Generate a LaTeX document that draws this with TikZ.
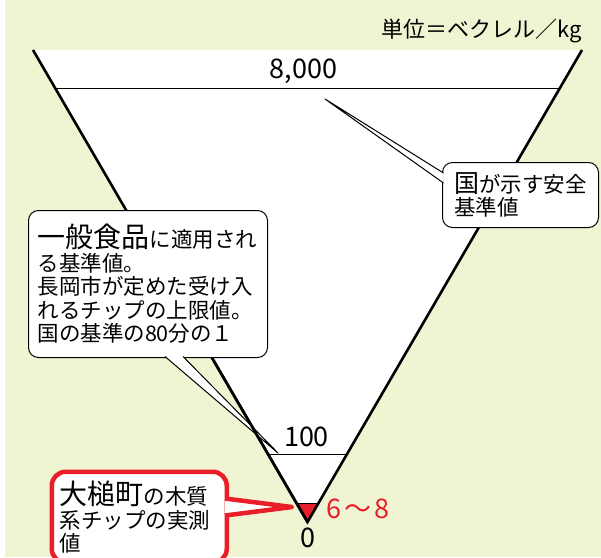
\documentclass[tikz,border=0pt]{standalone}
\usepackage{fontspec}
\setmainfont{Noto Sans CJK JP}
\usetikzlibrary{calc}
\definecolor{paper}{RGB}{241,244,211}
\definecolor{alert}{RGB}{232,30,40}
\tikzset{%
  callout/.style    = {shape=rectangle, rounded corners=10pt,%
                       draw, fill=white, line width=1pt,%
                       align=left, inner sep=0pt,%
                       font=\fontsize{21.5}{23.5}\selectfont},%
  redcallout/.style = {callout, draw=alert, line width=4.5pt,%
                       rounded corners=14pt},%
  level/.style      = {font=\fontsize{27}{28}\selectfont, inner sep=0pt},%
  side/.style       = {line width=2.6pt, line join=miter},%
  wedge/.style      = {line width=1pt, line join=round}%
}
\newcommand{\bigword}[1]{{\fontsize{28}{28}\selectfont #1}}

\begin{document}
\begin{tikzpicture}[x=1pt, y=-1pt]
  \useasboundingbox (0,0) rectangle (601,557);
  \fill[paper] (5,0) rectangle (601,557);
  % funnel
  \coordinate (tl) at (33,50);
  \coordinate (tr) at (582,50);
  \coordinate (apex) at (307.5,522);
  \coordinate (l8000) at ($(tl)!0.0805!(apex)$);
  \coordinate (r8000) at ($(tr)!0.0805!(apex)$);
  \coordinate (l100) at ($(tl)!0.858!(apex)$);
  \coordinate (r100) at ($(tr)!0.858!(apex)$);
  \coordinate (lred) at ($(tl)!0.96!(apex)$);
  \coordinate (rred) at ($(tr)!0.96!(apex)$);
  \fill[white] (tl) -- (tr) -- (apex) -- cycle;
  \fill[alert] (lred) -- (rred) -- (apex) -- cycle;
  \draw[line width=1pt] (l8000) -- (r8000);
  \draw[line width=1pt] (l100) -- (r100);
  \draw[line width=1pt] (lred) -- (rred);
  \draw[side] (tl) -- (apex) -- (tr);
  \node[level] (v8000) at (303.5,71) {8,000};
  \node[level] (v100) at (306.5,437) {100};
  \node[level, anchor=west, text=alert] (vmeas) at (326,509) {6\hspace{3pt}～\hspace{3pt}8};
  \node[level] (vzero) at (307.5,538) {0};
  \node[font=\fontsize{22}{24}\selectfont, anchor=east, inner sep=0pt] (unit) at (582,31) {単位＝ベクレル／kg};
  % national limit
  \node[callout, anchor=north west, minimum width=156, minimum height=65,%
        inner xsep=9pt] (safe) at (442,162)%
        {{\fontsize{25}{25}\selectfont 国}が示す安全\\基準値};
  \coordinate (tipsafe) at (325,99);
  \coordinate (safea) at ($(safe.north west)+(1.5,11)$);
  \coordinate (safeb) at ($(safe.north west)+(1.5,21)$);
  \fill[white] (safea) -- (tipsafe) -- (safeb) -- cycle;
  \draw[wedge] (safea) -- (tipsafe) -- (safeb);
  % general food limit
  \node[callout, anchor=north west, minimum width=239, minimum height=147,%
        text width=221, inner xsep=9pt] (food) at (28,210)%
        {\bigword{一般食品}に適用され\\る基準値。\\長岡市が定めた受け入\\れるチップの上限値。\\国の基準の80分の１};
  \coordinate (tipfood) at (278,453);
  \coordinate (fooda) at ($(food.south west)+(137,-1.5)$);
  \coordinate (foodb) at ($(food.south west)+(155,-1.5)$);
  \fill[white] (fooda) -- (tipfood) -- (foodb) -- cycle;
  \draw[wedge] (fooda) -- (tipfood) -- (foodb);
  \begin{scope}
    \clip (0,358) rectangle (601,557);
    \draw[side] (tl) -- (apex);
  \end{scope}
  % measured value
  \node[redcallout, anchor=north west, minimum width=175, minimum height=91,%
        text width=159, inner xsep=8pt] (town) at (49.5,469.5)%
        {\bigword{大槌町}の木質\\系チップの実測\\値};
  \coordinate (tiptown) at (292,507);
  \coordinate (towna) at ($(town.north east)+(-4,29)$);
  \coordinate (townb) at ($(town.north east)+(-4,46)$);
  \fill[white] (towna) -- (tiptown) -- (townb) -- cycle;
  \draw[alert, line width=4.5pt, line join=round] (towna) -- (tiptown) -- (townb);
\end{tikzpicture}
\end{document}
